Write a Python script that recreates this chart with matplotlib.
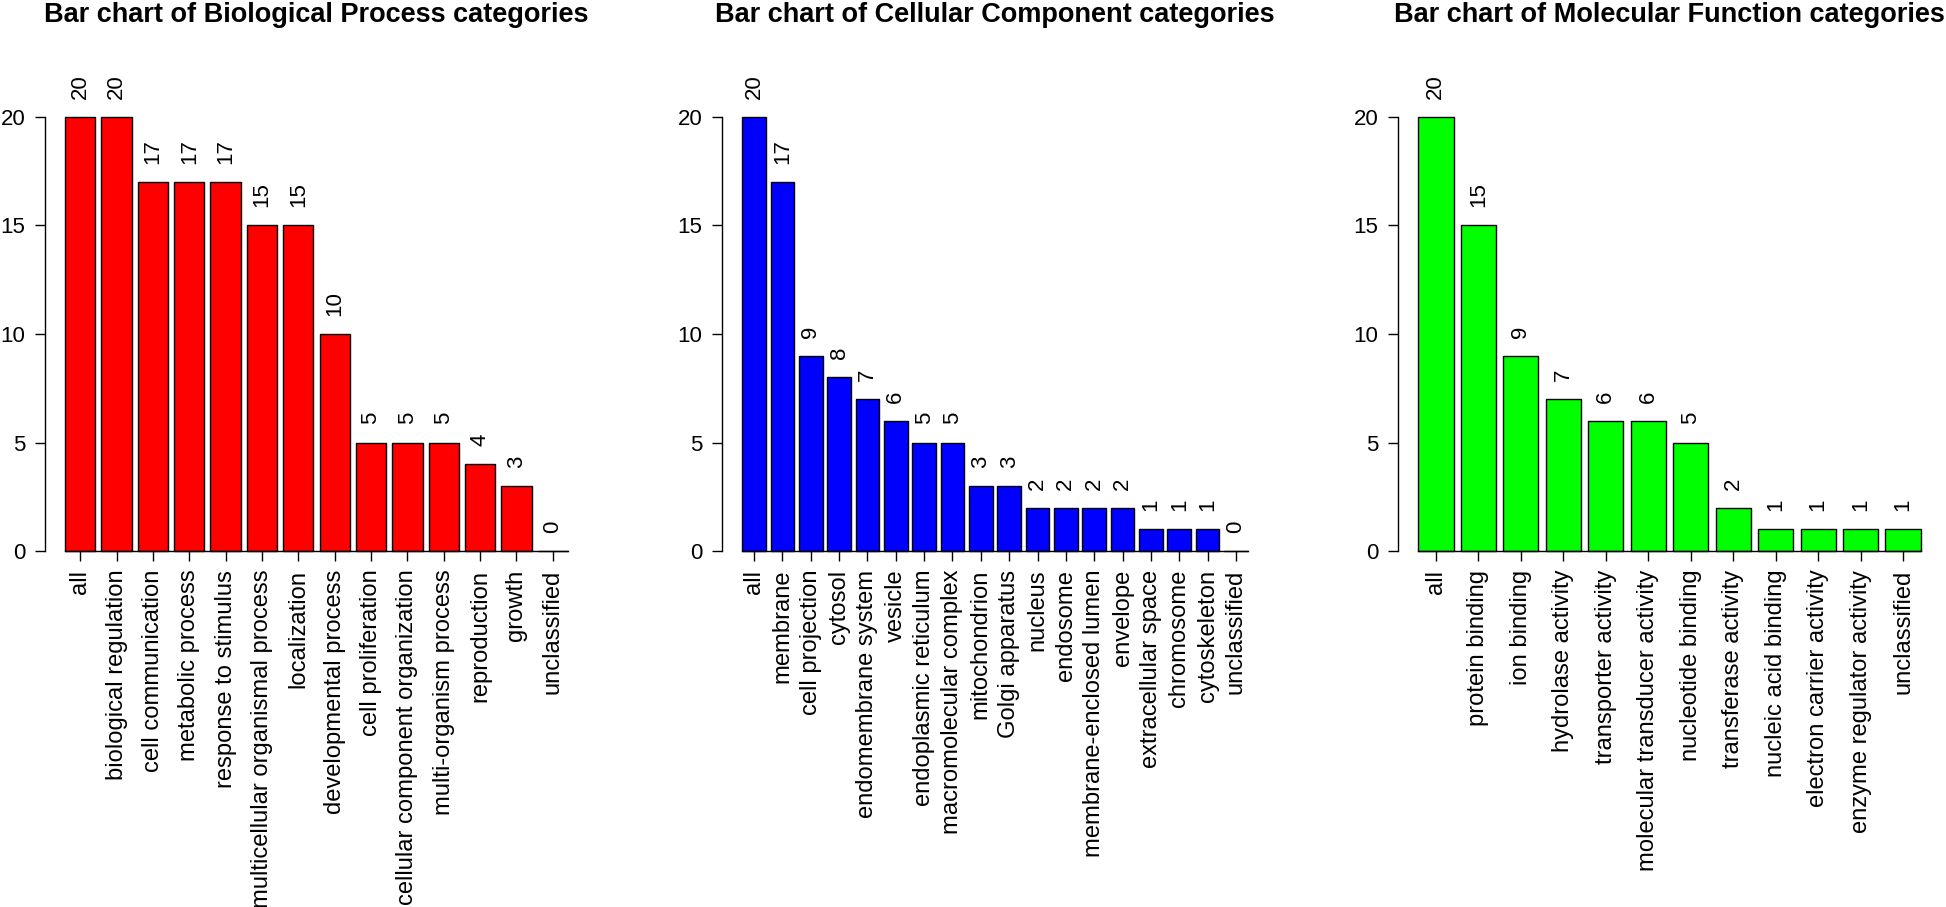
import numpy as np
import matplotlib
matplotlib.use("Agg")
import matplotlib.pyplot as plt

plt.rcParams['font.family'] = ['Liberation Sans', 'DejaVu Sans']

# GO category counts
bp_labels = ["all", "biological regulation", "cell communication", "metabolic process",
             "response to stimulus", "multicellular organismal process", "localization",
             "developmental process", "cell proliferation", "cellular component organization",
             "multi-organism process", "reproduction", "growth", "unclassified"]
bp_values = [20, 20, 17, 17, 17, 15, 15, 10, 5, 5, 5, 4, 3, 0]

cc_labels = ["all", "membrane", "cell projection", "cytosol", "endomembrane system",
             "vesicle", "endoplasmic reticulum", "macromolecular complex", "mitochondrion",
             "Golgi apparatus", "nucleus", "endosome", "membrane-enclosed lumen", "envelope",
             "extracellular space", "chromosome", "cytoskeleton", "unclassified"]
cc_values = [20, 17, 9, 8, 7, 6, 5, 5, 3, 3, 2, 2, 2, 2, 1, 1, 1, 0]

mf_labels = ["all", "protein binding", "ion binding", "hydrolase activity",
             "transporter activity", "molecular transducer activity", "nucleotide binding",
             "transferase activity", "nucleic acid binding", "electron carrier activity",
             "enzyme regulator activity", "unclassified"]
mf_values = [20, 15, 9, 7, 6, 6, 5, 2, 1, 1, 1, 1]

titles = ["Bar chart of Biological Process categories",
          "Bar chart of Cellular Component categories",
          "Bar chart of Molecular Function categories"]
colors = ["#FF0000", "#0000FF", "#00FF00"]

W, H = 1946, 907
fig = plt.figure(figsize=(W / 100, H / 100), dpi=100)

# axes placement in pixels (left, right), same vertical extent
x_px = [(45, 588), (722, 1268), (1398, 1941)]
y_bottom_px, y_top_px = 568.4, 99.6

panels = [(bp_labels, bp_values), (cc_labels, cc_values), (mf_labels, mf_values)]

for (labels, values), (x0, x1), title, col in zip(panels, x_px, titles, colors):
    ax = fig.add_axes([x0 / W, 1 - y_bottom_px / H, (x1 - x0) / W, (y_bottom_px - y_top_px) / H])
    n = len(values)
    mids = 0.7 + 1.2 * np.arange(n)
    ax.bar(mids, values, width=1.0, color=col, edgecolor="black", linewidth=1.0)

    # R-style 4% padding around the bars
    r = 1.2 * n - 0.2
    ax.set_xlim(0.2 - 0.04 * r, 1.2 * n + 0.04 * r)
    ax.set_ylim(-0.8, 20.8)

    for s in ["top", "right"]:
        ax.spines[s].set_visible(False)
    ax.spines["left"].set_bounds(0, 20)
    ax.spines["bottom"].set_position(("data", 0))
    ax.spines["bottom"].set_bounds(0.2, 1.2 * n)
    ax.spines["left"].set_linewidth(1.0)
    ax.spines["bottom"].set_linewidth(1.0)

    ax.set_yticks([0, 5, 10, 15, 20])
    ax.tick_params(axis="y", length=7.2, width=1.0, pad=7, labelsize=16)
    ax.set_xticks(mids)
    ax.set_xticklabels(labels, rotation=90, fontsize=17.1)
    ax.tick_params(axis="x", length=7.2, width=1.0, pad=6.2)

    for m, v in zip(mids, values):
        ax.annotate(str(v), (m, v), xytext=(0, 13), textcoords="offset points",
                    rotation=90, ha="center", va="bottom", fontsize=16,
                    annotation_clip=False)

    fig.text((x0 + x1) / 2 / W, 1 - 22 / H, title, ha="center", va="baseline",
             fontsize=19.5, fontweight="bold")

fig.savefig("out.png", dpi=100)
